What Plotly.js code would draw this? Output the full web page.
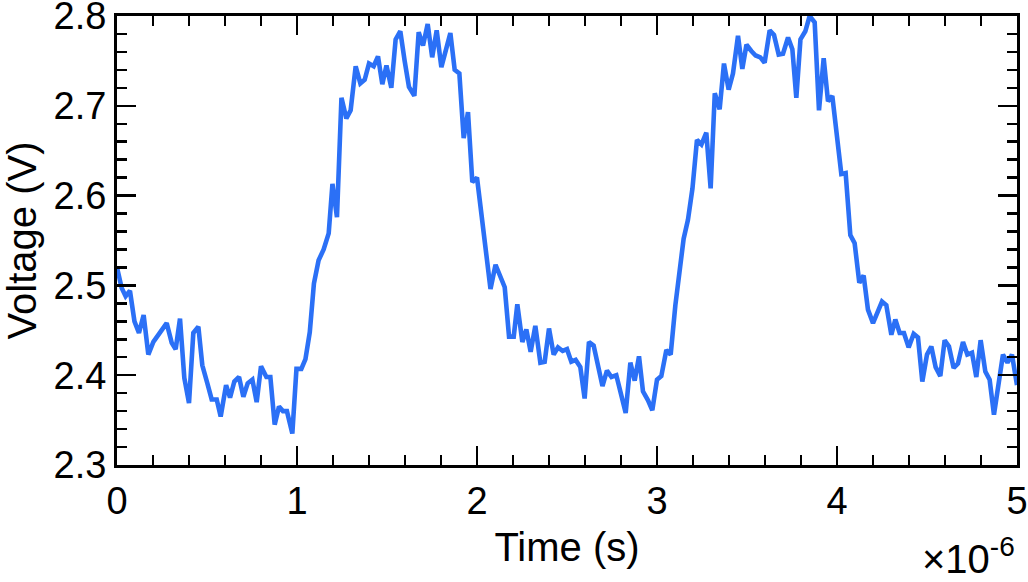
<!DOCTYPE html>
<html>
<head>
<meta charset="utf-8">
<script src="https://cdn.plot.ly/plotly-3.0.1.min.js"></script>
<style>html,body{margin:0;padding:0;background:#fff;}#chart{width:1028px;height:582px;}</style>
</head>
<body>
<div id="chart"></div>
<script>
// Time in microseconds (axis shows x 10^-6 s)
const timeUs = [0,0.026,0.048,0.072,0.097,0.122,0.148,0.174,0.202,0.23,0.252,0.276,0.304,0.326,0.35,0.374,0.4,0.424,0.452,0.474,0.502,0.526,0.554,0.576,0.606,0.628,0.652,0.678,0.702,0.726,0.752,0.776,0.8,0.83,0.852,0.876,0.9,0.922,0.944,0.974,0.997,1.024,1.047,1.071,1.094,1.12,1.148,1.176,1.197,1.222,1.247,1.274,1.298,1.326,1.352,1.376,1.4,1.426,1.45,1.474,1.497,1.524,1.548,1.574,1.598,1.622,1.652,1.676,1.7,1.726,1.751,1.776,1.802,1.852,1.876,1.902,1.926,1.95,1.974,2.0,2.075,2.103,2.154,2.178,2.204,2.224,2.252,2.274,2.298,2.324,2.352,2.376,2.4,2.426,2.45,2.476,2.5,2.524,2.548,2.574,2.598,2.622,2.648,2.672,2.697,2.722,2.747,2.774,2.802,2.826,2.852,2.876,2.9,2.922,2.95,2.974,3.0,3.024,3.052,3.076,3.102,3.126,3.148,3.172,3.197,3.222,3.247,3.274,3.298,3.321,3.348,3.372,3.398,3.422,3.45,3.474,3.497,3.524,3.548,3.574,3.598,3.626,3.65,3.676,3.7,3.728,3.752,3.774,3.797,3.824,3.848,3.876,3.9,3.926,3.95,3.974,4.0,4.024,4.048,4.074,4.098,4.124,4.148,4.172,4.2,4.224,4.25,4.274,4.302,4.324,4.348,4.372,4.398,4.426,4.45,4.474,4.5,4.524,4.548,4.574,4.598,4.622,4.648,4.672,4.7,4.724,4.75,4.774,4.798,4.824,4.848,4.872,4.898,4.922,4.947,4.972,5.0];
const voltage = [2.52,2.497,2.488,2.494,2.46,2.447,2.467,2.423,2.437,2.445,2.451,2.458,2.436,2.429,2.463,2.397,2.369,2.447,2.454,2.411,2.391,2.373,2.373,2.354,2.389,2.375,2.393,2.398,2.376,2.391,2.395,2.37,2.41,2.398,2.398,2.345,2.365,2.36,2.36,2.335,2.407,2.407,2.418,2.448,2.502,2.528,2.54,2.558,2.613,2.576,2.709,2.686,2.695,2.744,2.725,2.729,2.747,2.744,2.755,2.724,2.745,2.72,2.774,2.783,2.75,2.721,2.711,2.782,2.767,2.791,2.754,2.784,2.743,2.781,2.74,2.736,2.664,2.693,2.615,2.62,2.496,2.523,2.498,2.443,2.443,2.479,2.437,2.451,2.426,2.455,2.414,2.415,2.452,2.423,2.431,2.427,2.429,2.415,2.417,2.409,2.374,2.437,2.433,2.409,2.388,2.405,2.398,2.4,2.377,2.358,2.414,2.394,2.421,2.382,2.372,2.361,2.395,2.399,2.428,2.423,2.478,2.517,2.552,2.573,2.608,2.662,2.657,2.67,2.608,2.714,2.696,2.747,2.718,2.736,2.778,2.741,2.768,2.761,2.756,2.754,2.748,2.784,2.779,2.757,2.758,2.776,2.763,2.709,2.774,2.783,2.8,2.793,2.695,2.753,2.705,2.711,2.664,2.624,2.625,2.556,2.547,2.503,2.511,2.473,2.458,2.469,2.482,2.478,2.445,2.462,2.447,2.447,2.431,2.446,2.442,2.393,2.423,2.432,2.409,2.399,2.439,2.432,2.408,2.413,2.437,2.423,2.425,2.398,2.439,2.404,2.395,2.356,2.395,2.423,2.414,2.423,2.389];
const xTickVals = [0,1,2,3,4,5];
const xTickText = ['0','1','2','3','4','5'];
const yTickVals = [2.3,2.4,2.5,2.6,2.7,2.8];
const yTickText = ['2.3','2.4','2.5','2.6','2.7','2.8'];

const FONT = 'Liberation Sans, Arial, Helvetica, sans-serif';
const FS = 40;
const TFS = 38;
const trace = {
  x: timeUs, y: voltage, type: 'scatter', mode: 'lines',
  line: {color: '#2b70f6', width: 4.6},
  hoverinfo: 'skip'
};
const axisCommon = {
  showline: true, linecolor: '#000', linewidth: 3, mirror: 'ticks',
  ticks: 'inside', ticklen: 19, tickwidth: 2.5, tickcolor: '#000',
  showgrid: false, zeroline: false, ticklabeloverflow: 'allow',
  tickfont: {family: FONT, size: TFS, color: '#000'}
};
const layout = {
  width: 1028, height: 582,
  margin: {l: 117, r: 11, t: 16, b: 117},
  paper_bgcolor: '#fff', plot_bgcolor: '#fff',
  showlegend: false,
  font: {family: FONT, color: '#000'},
  xaxis: Object.assign({}, axisCommon, {
    range: [0, 5], tickvals: xTickVals, ticktext: xTickText,
    minor: {dtick: 0.2, ticks: 'inside', ticklen: 10, tickwidth: 2.5, tickcolor: '#000'},
    title: {text: 'Time (s)', font: {family: FONT, size: FS, color: '#000'}, standoff: 13}
  }),
  yaxis: Object.assign({}, axisCommon, {
    range: [2.3, 2.8], tickvals: yTickVals, ticktext: yTickText,
    minor: {dtick: 0.02, ticks: 'inside', ticklen: 10, tickwidth: 2.5, tickcolor: '#000'},
    title: {text: 'Voltage (V)', font: {family: FONT, size: FS, color: '#000'}, standoff: 6}
  }),
  annotations: [{
    xref: 'paper', yref: 'paper', x: 1.0, y: -0.262, xanchor: 'right', yanchor: 'bottom',
    text: '×10<sup>-6</sup>', showarrow: false,
    font: {family: FONT, size: FS, color: '#000'}
  }]
};
Plotly.newPlot('chart', [trace], layout, {staticPlot: true, displayModeBar: false});
</script>
</body>
</html>
